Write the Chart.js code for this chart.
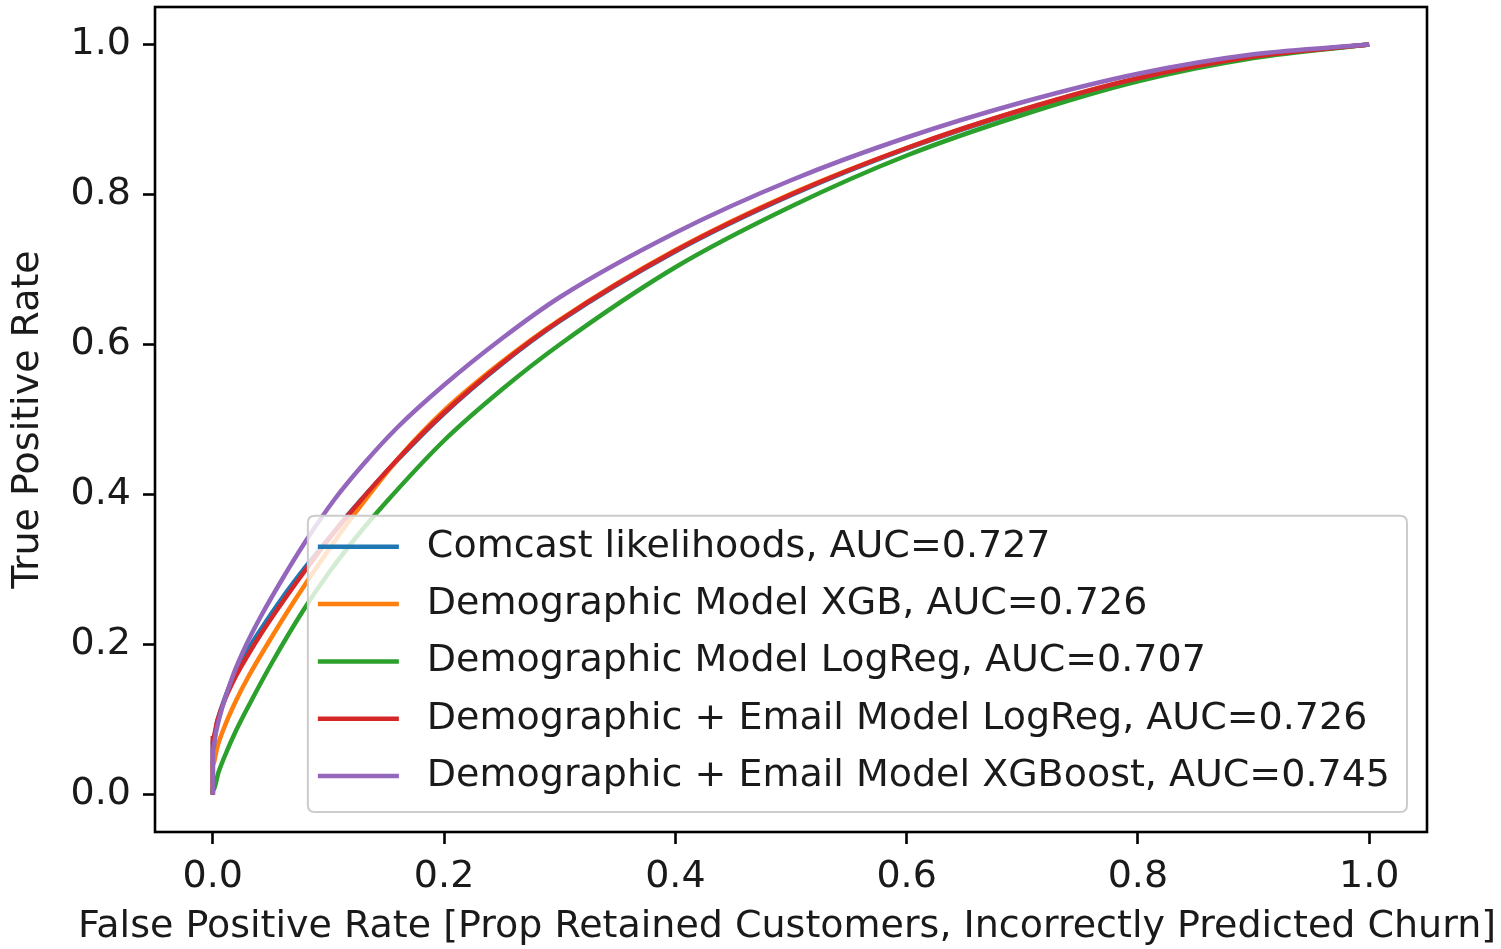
<!DOCTYPE html>
<html>
<head>
<meta charset="utf-8">
<script src="https://cdn.jsdelivr.net/npm/chart.js@4.4.1/dist/chart.umd.min.js"></script>
<style>
html,body{margin:0;padding:0;background:#fff;}
#wrap{width:1501px;height:949px;position:relative;}
</style>
</head>
<body>
<div id="wrap"><canvas id="c"></canvas></div>
<script>
// ---- data ----
const seriesLabels = [
  "Comcast likelihoods, AUC=0.727",
  "Demographic Model XGB, AUC=0.726",
  "Demographic Model LogReg, AUC=0.707",
  "Demographic + Email Model LogReg, AUC=0.726",
  "Demographic + Email Model XGBoost, AUC=0.745"
];
const seriesColors = ["#1f77b4", "#ff7f0e", "#2ca02c", "#d62728", "#9467bd"];

const fprComcast = [0, 0, 0.004, 0.01, 0.02, 0.03, 0.041, 0.06, 0.08, 0.1, 0.118, 0.161, 0.2, 0.25, 0.3, 0.4, 0.5, 0.6, 0.7, 0.8, 0.9, 1.0];
const tprComcast = [0, 0.07, 0.098, 0.127, 0.163, 0.192, 0.219, 0.262, 0.303, 0.341, 0.375, 0.448, 0.508, 0.574, 0.631, 0.724, 0.799, 0.861, 0.912, 0.954, 0.984, 1.0];

const fprDemoXGB = [0, 0, 0.004, 0.01, 0.02, 0.03, 0.049, 0.07, 0.1, 0.124, 0.161, 0.2, 0.25, 0.3, 0.4, 0.5, 0.6, 0.7, 0.8, 0.9, 1.0];
const tprDemoXGB = [0, 0.04, 0.064, 0.09, 0.125, 0.155, 0.205, 0.257, 0.326, 0.377, 0.449, 0.512, 0.577, 0.633, 0.726, 0.801, 0.862, 0.913, 0.955, 0.984, 1.0];

const fprDemoLR = [0, 0, 0.005, 0.01, 0.02, 0.035, 0.052, 0.078, 0.1, 0.125, 0.15, 0.2, 0.25, 0.3, 0.4, 0.5, 0.6, 0.7, 0.8, 0.9, 1.0];
const tprDemoLR = [0, 0.005, 0.03, 0.05, 0.085, 0.13, 0.178, 0.245, 0.295, 0.345, 0.39, 0.472, 0.54, 0.60, 0.703, 0.784, 0.852, 0.906, 0.951, 0.982, 1.0];

const fprEmailLR = [0, 0, 0.004, 0.01, 0.02, 0.03, 0.042, 0.06, 0.08, 0.1, 0.124, 0.161, 0.2, 0.25, 0.3, 0.4, 0.5, 0.6, 0.7, 0.8, 0.9, 1.0];
const tprEmailLR = [0, 0.075, 0.099, 0.125, 0.158, 0.185, 0.215, 0.256, 0.299, 0.34, 0.385, 0.449, 0.509, 0.575, 0.632, 0.725, 0.80, 0.862, 0.913, 0.955, 0.984, 1.0];

const fprEmailXGB = [0, 0, 0.003, 0.008, 0.017, 0.029, 0.041, 0.06, 0.08, 0.105, 0.13, 0.16, 0.2, 0.25, 0.3, 0.4, 0.5, 0.6, 0.7, 0.8, 0.9, 1.0];
const tprEmailXGB = [0, 0.06, 0.085, 0.115, 0.157, 0.20, 0.236, 0.287, 0.337, 0.393, 0.44, 0.49, 0.546, 0.608, 0.663, 0.749, 0.819, 0.876, 0.923, 0.961, 0.987, 1.0];

const xTickValues = [0.0, 0.2, 0.4, 0.6, 0.8, 1.0];
const yTickValues = [0.0, 0.2, 0.4, 0.6, 0.8, 1.0];
const xTitle = "False Positive Rate [Prop Retained Customers, Incorrectly Predicted Churn]";
const yTitle = "True Positive Rate";

// ---- build ----
const FONT = "'DejaVu Sans', 'Liberation Sans', sans-serif";
const FS = 38;
const TEXT = '#1a1a1a';
const allFpr = [fprComcast, fprDemoXGB, fprDemoLR, fprEmailLR, fprEmailXGB];
const allTpr = [tprComcast, tprDemoXGB, tprDemoLR, tprEmailLR, tprEmailXGB];

const datasets = seriesLabels.map((lab, i) => ({
  label: lab,
  data: allFpr[i].map((x, j) => ({x: x, y: allTpr[i][j]})),
  borderColor: seriesColors[i],
  backgroundColor: seriesColors[i],
  borderWidth: 4.5,
  pointRadius: 0,
  fill: false,
  cubicInterpolationMode: 'monotone',
  order: seriesLabels.length - i
}));

const framePlugin = {
  id: 'frame',
  afterDatasetsDraw(chart) {
    const a = chart.chartArea, ctx = chart.ctx;
    ctx.save();
    ctx.strokeStyle = '#000';
    ctx.lineWidth = 2.6;
    ctx.strokeRect(a.left, a.top, a.right - a.left, a.bottom - a.top);
    ctx.restore();
  }
};

const xTitlePlugin = {
  id: 'xTitle',
  afterDraw(chart) {
    const a = chart.chartArea, ctx = chart.ctx;
    ctx.save();
    ctx.font = FS + "px " + FONT;
    ctx.fillStyle = TEXT;
    ctx.textAlign = 'center';
    ctx.textBaseline = 'middle';
    ctx.fillText(xTitle, (a.left + a.right) / 2 - 4, chart.height - 22);
    ctx.restore();
  }
};

const legendPlugin = {
  id: 'mplLegend',
  afterDraw(chart) {
    const a = chart.chartArea, ctx = chart.ctx;
    ctx.save();
    ctx.font = FS + "px " + FONT;
    let maxW = 0;
    seriesLabels.forEach(t => { maxW = Math.max(maxW, ctx.measureText(t).width); });
    const pitch = 57.3;
    const padTop = 31, padBot = 36;
    const w = 119 + maxW + 17;
    const h = padTop + pitch * (seriesLabels.length - 1) + padBot;
    const right = a.right - 20, bottom = a.bottom - 20;
    const left = right - w, top = bottom - h;
    const r = 7;
    ctx.beginPath();
    ctx.moveTo(left + r, top);
    ctx.lineTo(right - r, top);
    ctx.quadraticCurveTo(right, top, right, top + r);
    ctx.lineTo(right, bottom - r);
    ctx.quadraticCurveTo(right, bottom, right - r, bottom);
    ctx.lineTo(left + r, bottom);
    ctx.quadraticCurveTo(left, bottom, left, bottom - r);
    ctx.lineTo(left, top + r);
    ctx.quadraticCurveTo(left, top, left + r, top);
    ctx.closePath();
    ctx.fillStyle = 'rgba(255,255,255,0.8)';
    ctx.fill();
    ctx.strokeStyle = '#cccccc';
    ctx.lineWidth = 2;
    ctx.stroke();
    seriesLabels.forEach((t, i) => {
      const y = top + padTop + i * pitch;
      ctx.strokeStyle = seriesColors[i];
      ctx.lineWidth = 4.5;
      ctx.beginPath();
      ctx.moveTo(left + 10, y);
      ctx.lineTo(left + 91, y);
      ctx.stroke();
      ctx.fillStyle = TEXT;
      ctx.textBaseline = 'middle';
      ctx.textAlign = 'left';
      ctx.fillText(t, left + 119, y);
    });
    ctx.restore();
  }
};

const tickFont = {family: FONT, size: FS};

new Chart(document.getElementById('c'), {
  type: 'line',
  data: {datasets: datasets},
  options: {
    responsive: true,
    maintainAspectRatio: false,
    animation: false,
    events: [],
    layout: {padding: {top: 7, right: 74, left: 0, bottom: 0}},
    plugins: {legend: {display: false}, tooltip: {enabled: false}},
    scales: {
      x: {
        type: 'linear',
        min: -0.05, max: 1.05,
        afterBuildTicks: s => { s.ticks = xTickValues.map(v => ({value: v})); },
        afterFit: s => { s.height = 117; s.paddingLeft = 0; s.paddingRight = 0; },
        ticks: {font: tickFont, color: TEXT, padding: 10, maxRotation: 0,
                callback: v => Number(v).toFixed(1)},
        grid: {display: true, drawOnChartArea: false, drawTicks: true, tickLength: 12,
               color: '#000', tickWidth: 2.6},
        border: {display: false},
        title: {display: false}
      },
      y: {
        type: 'linear',
        min: -0.05, max: 1.05,
        afterBuildTicks: s => { s.ticks = yTickValues.map(v => ({value: v})); },
        afterFit: s => { s.width = 155; s.paddingTop = 0; s.paddingBottom = 0; },
        ticks: {font: tickFont, color: TEXT, padding: 12,
                callback: v => Number(v).toFixed(1)},
        grid: {display: true, drawOnChartArea: false, drawTicks: true, tickLength: 12,
               color: '#000', tickWidth: 2.6},
        border: {display: false},
        title: {display: true, text: yTitle, font: tickFont, color: TEXT, padding: {top: 5, bottom: 0}}
      }
    }
  },
  plugins: [framePlugin, xTitlePlugin, legendPlugin]
});
</script>
</body>
</html>
